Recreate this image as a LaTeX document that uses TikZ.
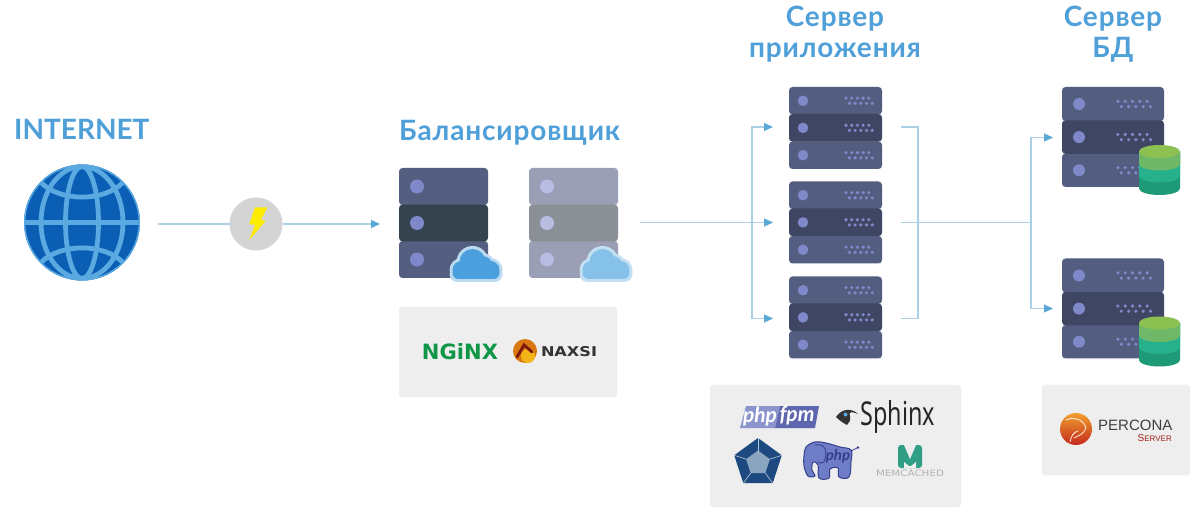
\documentclass[tikz,border=0pt]{standalone}
\usepackage{fontspec}
\usepackage{graphicx}
\setmainfont{Lato}
\newfontfamily\ttlfont[LetterSpace=3]{Lato}
\newfontfamily\logofont{DejaVu Sans}
\newfontfamily\sphfont{Noto Sans}
\newfontfamily\perfont{Liberation Sans}
\usetikzlibrary{arrows.meta,shapes.geometric}
\definecolor{ttl}{HTML}{4F9FD9}
\definecolor{wirec}{HTML}{A9D0E6}
\definecolor{tipc}{HTML}{5AA8D8}
\definecolor{rowa}{HTML}{535D7F}
\definecolor{rowb}{HTML}{3F4663}
\definecolor{lba}{HTML}{535E80}
\definecolor{lbb}{HTML}{35434F}
\definecolor{lca}{HTML}{9A9FB5}
\definecolor{lcb}{HTML}{8B9096}
\definecolor{led}{HTML}{7F88C8}
\definecolor{panelc}{HTML}{EEEEEE}
\definecolor{dba}{HTML}{1F9A76}
\definecolor{dbb}{HTML}{27B08C}
\definecolor{dbc}{HTML}{6FB868}
\definecolor{dbd}{HTML}{8CC152}
\definecolor{globef}{HTML}{0A5FB4}
\definecolor{globel}{HTML}{5AA9E0}
\definecolor{cloudm}{HTML}{4A9FDC}
\definecolor{cloudr}{HTML}{BBDAF0}
\definecolor{cloudl}{HTML}{85C1E8}
\definecolor{cloudq}{HTML}{C4E0F3}
\definecolor{nginxg}{HTML}{0F9647}
\definecolor{naxo}{HTML}{D9780F}
\definecolor{naxy}{HTML}{F2B417}
\definecolor{naxr}{HTML}{7E1710}
\definecolor{fpml}{HTML}{8B95CC}
\definecolor{fpmd}{HTML}{5E67AE}
\definecolor{pentd}{HTML}{1C4A80}
\definecolor{pentl}{HTML}{8AA5C0}
\definecolor{eleph}{HTML}{6F7CC6}
\definecolor{elephd}{HTML}{333F8C}
\definecolor{memc}{HTML}{2F9E85}
\definecolor{perco}{HTML}{F0A030}
\definecolor{percr}{HTML}{C5281C}
\tikzset{
  title/.style={font=\ttlfont\fontsize{28}{28}\selectfont\bfseries,text=ttl,inner sep=0pt},
  wire/.style={draw=wirec,line width=1.1pt},
  arrowwire/.style={wire,-{Triangle[length=9pt,width=8pt,color=tipc]}},
  panel/.style={fill=panelc,rounded corners=3pt},
  anch/.style={inner sep=0pt,outer sep=0pt},
}
% x y w h colour ledoffset ledradius dotspacing(0=none)
\newcommand{\srvrow}[8]{%
  \fill[#5,rounded corners=3.5pt] (#1,#2) rectangle ++(#3,#4);
  \fill[led] ({#1+#6},{#2+#4/2}) circle[radius=#7pt];
  \ifdim #8pt>0pt
    \foreach \k in {0,...,4}{
      \fill[led] ({#1+#3-36*#8/5.7+\k*#8},{#2+#4/2-2.6}) circle[radius=1.8pt];
      \fill[led] ({#1+#3-36*#8/5.7+3.4+\k*#8},{#2+#4/2+2.6}) circle[radius=1.8pt];
    }
  \fi}
\newcommand{\appstack}[2]{%
  \srvrow{#1}{#2}{93}{27.5}{rowa}{14}{5.3}{5.7}
  \srvrow{#1}{#2+54.5}{93}{27.5}{rowa}{14}{5.3}{5.7}
  \srvrow{#1}{#2+27}{93}{27.7}{rowb}{14}{5.3}{5.7}}
\newcommand{\dbstack}[2]{%
  \srvrow{#1}{#2}{102}{34}{rowa}{17}{6}{7.3}
  \srvrow{#1}{#2+66.5}{102}{33.5}{rowa}{17}{6}{7.3}
  \srvrow{#1}{#2+33.3}{102}{33.6}{rowb}{17}{6}{7.3}}
\newcommand{\lbstack}[3]{%
  \srvrow{#1}{#2}{89}{37}{#3}{18}{7}{0}
  \srvrow{#1}{#2+73}{89}{37}{#3}{18}{7}{0}}
\newcommand{\mycloud}[4]{% cx cy fill rim
  \foreach \cx/\cy/\r in {-15/5/9,-4/-3/13,6/1/10,14/5/9}{
    \fill[#4] (#1+\cx,#2+\cy) circle[radius=\r pt+3pt];}
  \fill[#4,rounded corners=8pt] (#1-27,#2+2) rectangle (#1+26,#2+17);
  \foreach \cx/\cy/\r in {-15/5/9,-4/-3/13,6/1/10,14/5/9}{
    \fill[#3] (#1+\cx,#2+\cy) circle[radius=\r pt];}
  \fill[#3,rounded corners=6pt] (#1-24,#2+2) rectangle (#1+23,#2+14);
}
\newcommand{\dbcyl}[2]{% x ytop
  \fill[dba] (#1,#2+6.5) -- (#1,#2+43.5) arc[start angle=180,end angle=360,x radius=20.5pt,y radius=6.5pt] -- (#1+41,#2+6.5) -- cycle;
  \fill[dbb] (#1,#2+6.5) -- (#1,#2+31) arc[start angle=180,end angle=360,x radius=20.5pt,y radius=6.5pt] -- (#1+41,#2+6.5) -- cycle;
  \fill[dbc] (#1,#2+6.5) -- (#1,#2+19) arc[start angle=180,end angle=360,x radius=20.5pt,y radius=6.5pt] -- (#1+41,#2+6.5) -- cycle;
  \fill[dbd] (#1+20.5,#2+6.5) ellipse[x radius=20.5pt,y radius=6.5pt];}
\begin{document}
\begin{tikzpicture}[x=1pt,y=-1pt]
\useasboundingbox (0,0) rectangle (1200,521);
\fill[white] (0,0) rectangle (1200,521);

% anchor nodes
\node[anch,circle,minimum size=116pt] (globe) at (82,222.5) {};
\node[anch,circle,minimum size=53pt,fill=black!17] (bolt) at (256,224) {};
\node[anch,minimum width=89pt,minimum height=110pt] (lbone) at (443.5,223) {};
\node[anch,minimum width=88pt,minimum height=110pt] (lbtwo) at (573,223) {};
\node[anch,minimum width=93pt,minimum height=81pt] (appone) at (835.5,127) {};
\node[anch,minimum width=93pt,minimum height=82pt] (apptwo) at (835.5,222.5) {};
\node[anch,minimum width=93pt,minimum height=82pt] (appthree) at (835.5,318.5) {};
\node[anch,minimum width=102pt,minimum height=100pt] (dbone) at (1113,137.5) {};
\node[anch,minimum width=102pt,minimum height=100pt] (dbtwo) at (1113,308.5) {};
\coordinate (jleft) at (752,222.5);
\coordinate (jright) at (918,222.5);
\coordinate (jdb) at (1031,222.5);

% connectors
\draw[wire,shorten <=18pt] (globe.east |- bolt.west) -- (bolt.west);
\draw[arrowwire,shorten >=19pt] (bolt.east) -- (bolt.east -| lbone.west);
\draw[arrowwire,shorten <=23pt,shorten >=16pt] (lbtwo.east |- apptwo.west) -- (apptwo.west);
\draw[arrowwire,shorten >=16pt] (jleft) |- (appone.west);
\draw[arrowwire,shorten >=16pt] (jleft) |- (appthree.west);
\draw[wire,shorten <=19pt] (appone.east) -| (jright);
\draw[wire,shorten <=19pt] (appthree.east) -| (jright);
\draw[wire,shorten <=19pt] (apptwo.east) -- (jdb);
\draw[arrowwire,shorten >=9pt] (jdb) |- (dbone.west);
\draw[arrowwire,shorten >=9pt] (jdb) |- (dbtwo.west);

% titles
\node[inner sep=0pt,text=ttl,font=\fontsize{28}{28}\selectfont\bfseries,anchor=base west] (tnet) at (14,140) {INTERNET};
\node[title,anchor=base west] (tlb) at (399,141) {Балансировщик};
\node[title,anchor=base] (tapp) at (835,27) {Сервер};
\node[title,anchor=base] (tapptwo) at (835,58) {приложения};
\node[title,anchor=base] (tdb) at (1113,27) {Сервер};
\node[title,anchor=base] (tdbtwo) at (1113,58) {БД};

% globe
\begin{scope}
\fill[globef] (globe.center) circle[radius=58pt];
\clip (globe.center) circle[radius=58pt];
\begin{scope}[line width=4.8pt]
\draw[globel] (globe.center) ellipse[x radius=16.5pt,y radius=56pt];
\draw[globel] (globe.center) ellipse[x radius=41pt,y radius=56pt];
\draw[globel] (24,222.5) -- (140,222.5);
\draw[globel] (41,182.5) .. controls (60,202) and (104,202) .. (123,182.5);
\draw[globel] (41,262.5) .. controls (60,243) and (104,243) .. (123,262.5);
\end{scope}
\draw[globel,line width=1.8pt] (globe.center) circle[radius=57.5pt];
\end{scope}
% bolt
\fill[yellow!95!orange] (255,207.3) -- (267.3,207.3) -- (261,220) -- (265.7,220.7) -- (249.3,240) -- (255,225) -- (249.3,224) -- cycle;

% balancer
\lbstack{399}{168}{lba}
\srvrow{399}{204.6}{89}{36.8}{lbb}{18}{7}{0}
\mycloud{476.5}{265}{cloudm}{cloudr}
\lbstack{529}{168}{lca}
\srvrow{529}{204.6}{89}{36.8}{lcb}{18}{7}{0}
\fill[led!55!white] (547,186.5) circle[radius=7pt];
\fill[led!55!white] (547,223) circle[radius=7pt];
\fill[led!55!white] (547,259.5) circle[radius=7pt];
\mycloud{606.5}{265}{cloudl}{cloudq}

% balancer panel
\fill[panel] (399,307) rectangle (617,397);
\node[inner sep=0pt,text=nginxg] (nginx) at (460,352) {\resizebox{76pt}{16pt}{\logofont\bfseries NGiNX}};
\fill[naxo] (525,351) circle[radius=12pt];
\fill[naxy] (528,356) circle[radius=7pt];
\draw[naxr,line width=2.8pt,line cap=round] (517,357) -- (524,345) -- (532,352);
\node[inner sep=0pt,text=black!80] (naxsi) at (569,352) {\resizebox{56pt}{10pt}{\logofont\bfseries NAXSI}};

% app servers
\appstack{789}{87}
\appstack{789}{181.5}
\appstack{789}{276.5}

% app panel
\fill[panel] (710,385) rectangle (961,507);
\fill[fpml] (746,406) -- (780,406) -- (775,428) -- (740,428) -- cycle;
\fill[fpmd] (780,406) -- (819,406) -- (815,428) -- (775,428) -- cycle;
\node[inner sep=0pt,text=white,font=\fontsize{21}{21}\selectfont\bfseries\itshape] (php) at (760,416) {php};
\node[inner sep=0pt,text=white,font=\fontsize{21}{21}\selectfont\bfseries\itshape] (fpm) at (797,416) {fpm};
% sphinx
\fill[black!80] (836,417) .. controls (842,408) and (852,408) .. (858,414) .. controls (852,411) and (848,412) .. (850,416) .. controls (851,420) and (849,423) .. (847,425) .. controls (843,423) and (839,420) .. (836,417) -- cycle;
\fill[globel] (845.5,414.5) circle[radius=2pt];
\node[inner sep=0pt,anchor=base west,text=black!85,font=\sphfont] (sphinx) at (860.5,425) {\resizebox{74.5pt}{25pt}{Sphinx}};
% pentagon logo
\node[anch,regular polygon,regular polygon sides=5,minimum size=50pt,fill=pentd] (pent) at (758,463) {};
\node[anch,regular polygon,regular polygon sides=5,minimum size=25pt,fill=pentl] (pentin) at (758,463) {};
\foreach \a in {1,...,5}{\draw[white!70!pentd,line width=.6pt] (pentin.corner \a) -- (pent.corner \a);}
% elephant
\draw[fill=eleph,draw=elephd,line width=1pt] plot[smooth cycle,tension=.6] coordinates {(804,456) (806,447) (815,442) (826,443) (840,447) (851,450) (851,462) (849,477) (839,477) (838,468) (830,469) (829,478) (819,478) (818,465) (813,462) (812,470) (815,476) (808,476) (804,466)};
\draw[elephd,line width=.8pt] (815,445) .. controls (826,443) and (828,452) .. (824,462) .. controls (822,464) and (820,463) .. (818,462);
\draw[elephd,line width=.8pt] (851,451) -- (857,448);
\fill[elephd] (858,447.5) circle[radius=1.4pt];
\node[inner sep=0pt,text=elephd,font=\fontsize{15}{15}\selectfont\bfseries\itshape] (phptxt) at (838,456) {php};
% memcached
\fill[memc,rounded corners=3pt] (898,445) -- (922,445) -- (922,468) -- (898,468) -- cycle;
\fill[panelc] (904,445) -- (910,459) -- (916,445) -- cycle;
\fill[panelc] (904,468) -- (904,462) -- (909,466) -- (911,466) -- (916,462) -- (916,468) -- cycle;
\node[inner sep=0pt,text=black!30] (memt) at (910,473) {\resizebox{68pt}{6.5pt}{\logofont MEMCACHED}};

% db servers
\dbstack{1062}{87}
\dbcyl{1139}{145}
\dbstack{1062}{258.5}
\dbcyl{1139}{316.5}

% percona panel
\fill[panel] (1042,385) rectangle (1190,475);
\shade[top color=perco,bottom color=percr] (1076,429) circle[radius=16pt];
\draw[white!85!perco,line width=.8pt,line cap=round] (1066,420) .. controls (1074,416) and (1084,420) .. (1086,428) .. controls (1084,434) and (1078,436) .. (1074,438) (1070,442) .. controls (1071,436) and (1074,432) .. (1078,431);
\node[inner sep=0pt,text=black!75,anchor=base west,font=\perfont\fontsize{15}{15}\selectfont] (perc) at (1098,430) {PERCONA};
\node[inner sep=0pt,text=percr!80!black,anchor=base east,font=\perfont] (serv) at (1172,441) {{\fontsize{10}{10}\selectfont S}{\fontsize{8}{8}\selectfont ERVER}};
\end{tikzpicture}
\end{document}
